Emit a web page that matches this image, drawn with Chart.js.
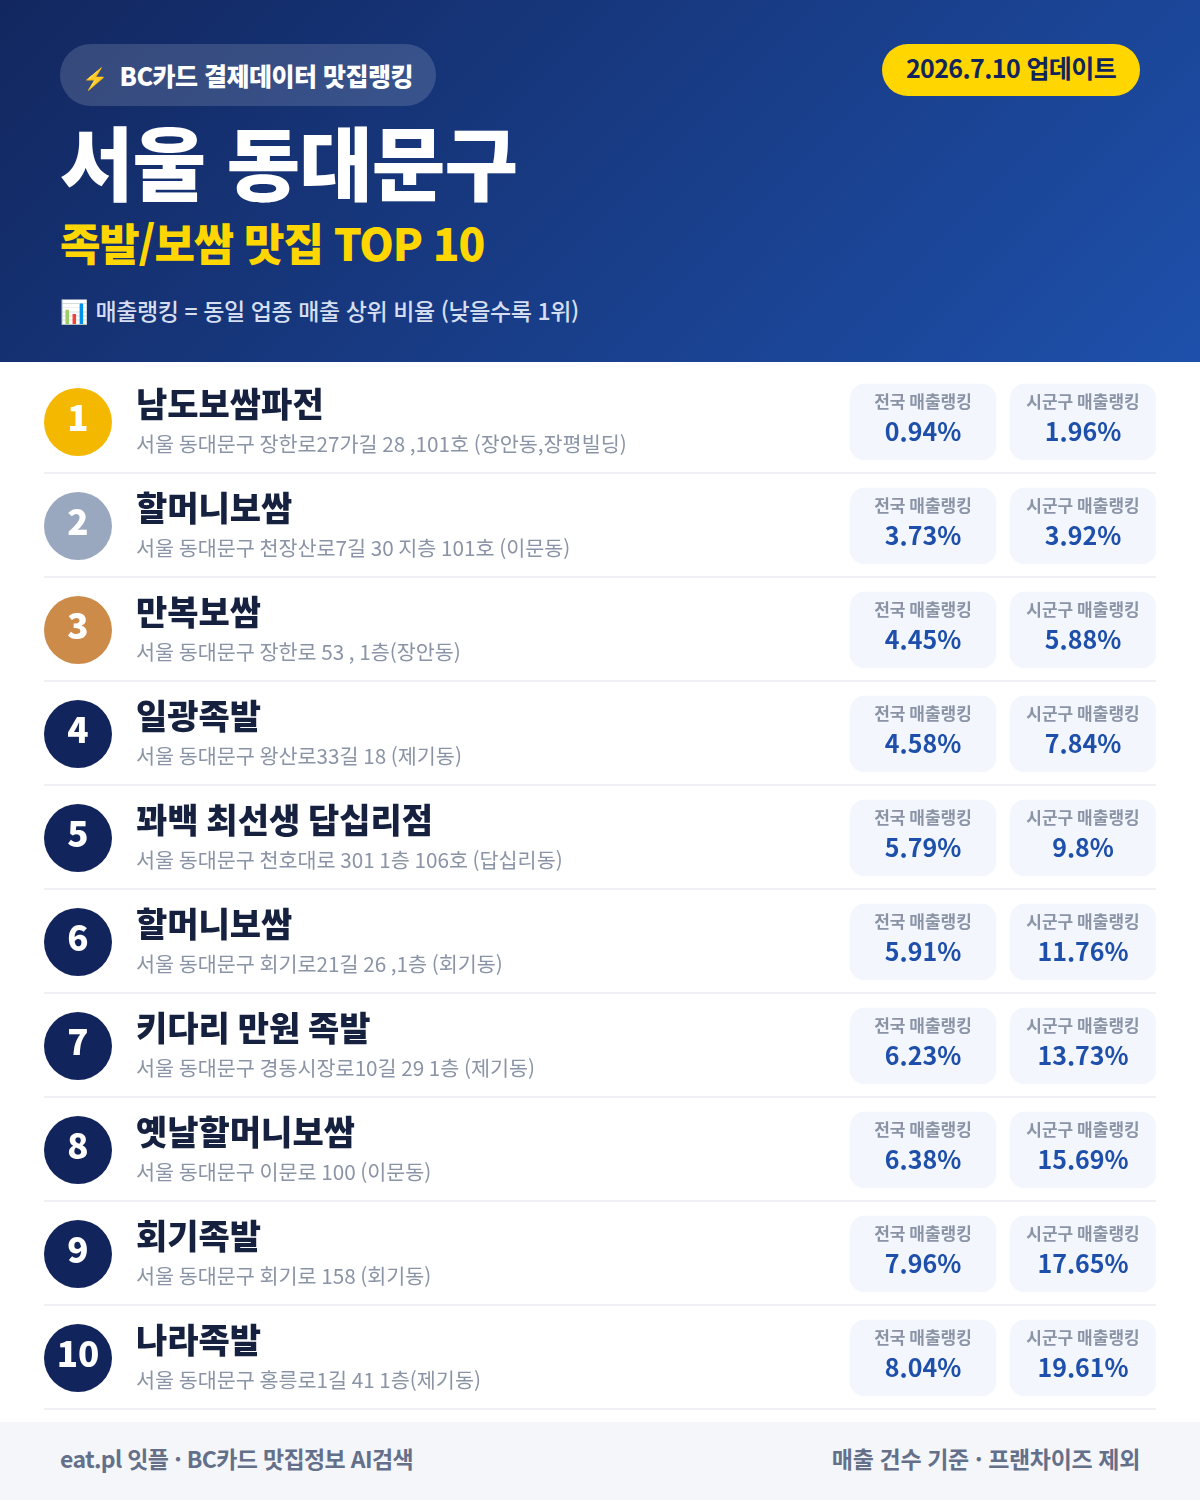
<!DOCTYPE html>
<html lang="ko">
<head>
<meta charset="utf-8">
<title>서울 동대문구 족발/보쌈 맛집 TOP 10</title>
<script src="https://cdn.jsdelivr.net/npm/chart.js@4"></script>
<style>
  * { box-sizing: border-box; }
  html, body { margin: 0; padding: 0; background: #fff; }
  body { width: 1200px; height: 1500px; position: relative; overflow: hidden; font-family: "Noto Sans CJK KR", sans-serif; }
  .head { position: absolute; left: 0; top: 0; width: 1200px; height: 362px; background: linear-gradient(135deg, #12275f, #1e50ab); }
  .head div { position: absolute; white-space: nowrap; }
  .pill { left: 60px; top: 44px; width: 376px; height: 62px; border-radius: 31px; background: rgba(255,255,255,.15); color: #fff; font-size: 25px; font-weight: 800; line-height: 62px; padding-left: 22px; letter-spacing: -0.5px; }
  .pill span { font-size: 21px; margin-right: 12px; }
  .date { left: 882px; top: 44px; width: 258px; height: 52px; border-radius: 26px; background: #ffd600; color: #12245c; font-size: 25px; font-weight: 700; line-height: 47px; text-align: center; letter-spacing: -0.6px; }
  .title { left: 60px; top: 103px; color: #fff; font-size: 80px; line-height: 112px; font-weight: 900; letter-spacing: -1px; }
  .sub { left: 60px; top: 210px; color: #ffd600; font-size: 44px; line-height: 64px; font-weight: 900; letter-spacing: -1.2px; }
  .note { left: 60px; top: 292px; color: #d5def0; font-size: 23px; font-weight: 500; line-height: 36px; letter-spacing: -0.42px; }
  .note span { margin-right: 7px; }
  .foot { position: absolute; left: 0; top: 1422px; width: 1200px; height: 78px; background: #f5f6fa; color: #64708a; font-size: 23px; font-weight: 600; line-height: 72px; letter-spacing: -0.35px; }
  .foot .l { position: absolute; left: 60px; letter-spacing: -0.65px; }
  .foot .r { position: absolute; right: 60px; }
  #list { position: absolute; left: 0; top: 362px; }
</style>
</head>
<body>
<div class="head">
  <div class="pill"><span>⚡</span>BC카드 결제데이터 맛집랭킹</div>
  <div class="date">2026.7.10 업데이트</div>
  <div class="title">서울 동대문구</div>
  <div class="sub">족발/보쌈 맛집 TOP 10</div>
  <div class="note"><span>📊</span>매출랭킹 = 동일 업종 매출 상위 비율 (낮을수록 1위)</div>
</div>
<canvas id="list" width="1200" height="1060"></canvas>
<div class="foot">
  <span class="l">eat.pl 잇플 · BC카드 맛집정보 AI검색</span>
  <span class="r">매출 건수 기준 · 프랜차이즈 제외</span>
</div>

<script>
const ranks = ["1", "2", "3", "4", "5", "6", "7", "8", "9", "10"];
const names = ["남도보쌈파전", "할머니보쌈", "만복보쌈", "일광족발", "꽈백 최선생 답십리점", "할머니보쌈", "키다리 만원 족발", "옛날할머니보쌈", "회기족발", "나라족발"];
const addresses = [
  "서울 동대문구 장한로27가길 28 ,101호 (장안동,장평빌딩)",
  "서울 동대문구 천장산로7길 30 지층 101호 (이문동)",
  "서울 동대문구 장한로 53 , 1층(장안동)",
  "서울 동대문구 왕산로33길 18 (제기동)",
  "서울 동대문구 천호대로 301 1층 106호 (답십리동)",
  "서울 동대문구 회기로21길 26 ,1층 (회기동)",
  "서울 동대문구 경동시장로10길 29 1층 (제기동)",
  "서울 동대문구 이문로 100 (이문동)",
  "서울 동대문구 회기로 158 (회기동)",
  "서울 동대문구 홍릉로1길 41 1층(제기동)"
];
const nationalRank = [0.94, 3.73, 4.45, 4.58, 5.79, 5.91, 6.23, 6.38, 7.96, 8.04];
const districtRank = [1.96, 3.92, 5.88, 7.84, 9.8, 11.76, 13.73, 15.69, 17.65, 19.61];
const columnLabels = ["전국 매출랭킹", "시군구 매출랭킹"];

// layout of the table columns, on the x scale
const rankColumn = 78;
const nameColumn = 136;
const nationalBox = [850, 996];
const districtBox = [1010, 1156];

const FONT = '"Noto Sans CJK KR", sans-serif';

function badgeColor(ctx) {
  const medal = ["#f4b800", "#9aa8bf", "#cd8b4a"];
  return medal[ctx.dataIndex] || "#12245c";
}

// separators, and all the text sitting on the rows
const rowText = {
  id: "rowText",
  beforeDatasetsDraw(chart) {
    const { ctx, scales: { x, y } } = chart;
    ctx.save();
    ctx.fillStyle = "#eef0f4";
    ranks.forEach((r, i) => {
      ctx.fillRect(x.left, y.getPixelForValue(i) + 50, x.width, 2);
    });
    ctx.restore();
  },
  afterDatasetsDraw(chart) {
    const { ctx, scales: { x, y } } = chart;
    const nat = x.getPixelForValue((nationalBox[0] + nationalBox[1]) / 2);
    const dis = x.getPixelForValue((districtBox[0] + districtBox[1]) / 2);
    ctx.save();
    ctx.textBaseline = "middle";
    ranks.forEach((r, i) => {
      const cy = y.getPixelForValue(i);
      ctx.textAlign = "center";
      ctx.fillStyle = "#fff";
      ctx.font = "800 35px " + FONT;
      ctx.fillText(r, x.getPixelForValue(rankColumn), cy - 4);

      ctx.textAlign = "left";
      ctx.fillStyle = "#16213f";
      ctx.font = "900 34px " + FONT;
      ctx.fillText(names[i], x.getPixelForValue(nameColumn), cy - 18);
      ctx.fillStyle = "#8a94a6";
      ctx.font = "400 20.7px " + FONT;
      ctx.fillText(addresses[i], x.getPixelForValue(nameColumn), cy + 22);

      ctx.textAlign = "center";
      ctx.fillStyle = "#8a94a6";
      ctx.font = "600 17px " + FONT;
      ctx.fillText(columnLabels[0], nat, cy - 20);
      ctx.fillText(columnLabels[1], dis, cy - 20);
      ctx.fillStyle = "#1e50ab";
      ctx.font = "700 25px " + FONT;
      ctx.fillText(nationalRank[i] + "%", nat, cy + 9);
      ctx.fillText(districtRank[i] + "%", dis, cy + 9);
    });
    ctx.restore();
  }
};

new Chart(document.getElementById("list"), {
  type: "bar",
  data: {
    labels: ranks,
    datasets: [
      {
        label: columnLabels[0],
        data: ranks.map(() => nationalBox),
        backgroundColor: "#f3f6fd",
        borderRadius: 15,
        borderSkipped: false,
        barThickness: 76,
        grouped: false
      },
      {
        label: columnLabels[1],
        data: ranks.map(() => districtBox),
        backgroundColor: "#f3f6fd",
        borderRadius: 15,
        borderSkipped: false,
        barThickness: 76,
        grouped: false
      },
      {
        type: "scatter",
        label: "순위",
        data: ranks.map((r) => ({ x: rankColumn, y: r })),
        pointRadius: 34,
        pointHoverRadius: 34,
        pointBorderWidth: 0,
        pointBackgroundColor: badgeColor
      }
    ]
  },
  options: {
    indexAxis: "y",
    responsive: false,
    animation: false,
    events: [],
    layout: { autoPadding: false, padding: { left: 44, right: 44, top: 8, bottom: 12 } },
    plugins: { legend: { display: false }, tooltip: { enabled: false } },
    scales: {
      x: { type: "linear", min: 44, max: 1156, display: false },
      y: { type: "category", display: false, offset: true }
    }
  },
  plugins: [rowText]
});
</script>
</body>
</html>
